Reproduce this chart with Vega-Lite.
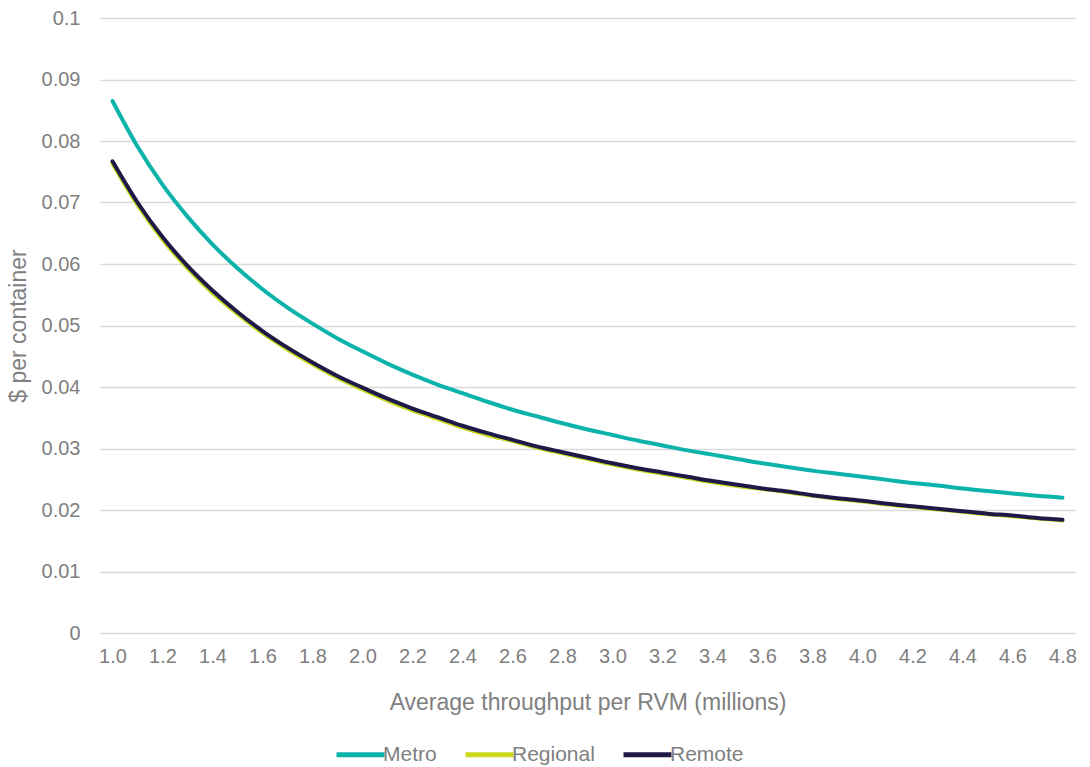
{
  "$schema": "https://vega.github.io/schema/vega-lite/v6.json",
  "width": 975,
  "height": 615,
  "autosize": {"type": "none"},
  "padding": {"left": 100, "top": 18, "right": 15, "bottom": 134},
  "background": "white",
  "config": {
    "view": {"stroke": null},
    "font": "Liberation Sans"
  },
  "datasets": {
    "curves": [
      {"x": 1.0, "Metro": 0.0865, "Regional": 0.0763, "Remote": 0.0767},
      {"x": 1.1, "Metro": 0.0791, "Regional": 0.0696, "Remote": 0.0700},
      {"x": 1.2, "Metro": 0.0729, "Regional": 0.0640, "Remote": 0.0644},
      {"x": 1.3, "Metro": 0.0677, "Regional": 0.0593, "Remote": 0.0597},
      {"x": 1.4, "Metro": 0.0632, "Regional": 0.0553, "Remote": 0.0557},
      {"x": 1.5, "Metro": 0.0593, "Regional": 0.0519, "Remote": 0.0522},
      {"x": 1.6, "Metro": 0.0559, "Regional": 0.0488, "Remote": 0.0491},
      {"x": 1.7, "Metro": 0.0529, "Regional": 0.0461, "Remote": 0.0464},
      {"x": 1.8, "Metro": 0.0503, "Regional": 0.0437, "Remote": 0.0440},
      {"x": 1.9, "Metro": 0.0479, "Regional": 0.0415, "Remote": 0.0418},
      {"x": 2.0, "Metro": 0.0458, "Regional": 0.0396, "Remote": 0.0399},
      {"x": 2.1, "Metro": 0.0438, "Regional": 0.0378, "Remote": 0.0381},
      {"x": 2.2, "Metro": 0.0420, "Regional": 0.0362, "Remote": 0.0365},
      {"x": 2.3, "Metro": 0.0404, "Regional": 0.0348, "Remote": 0.0351},
      {"x": 2.4, "Metro": 0.0390, "Regional": 0.0334, "Remote": 0.0337},
      {"x": 2.5, "Metro": 0.0376, "Regional": 0.0322, "Remote": 0.0325},
      {"x": 2.6, "Metro": 0.0363, "Regional": 0.0312, "Remote": 0.0314},
      {"x": 2.7, "Metro": 0.0352, "Regional": 0.0301, "Remote": 0.0303},
      {"x": 2.8, "Metro": 0.0341, "Regional": 0.0292, "Remote": 0.0294},
      {"x": 2.9, "Metro": 0.0331, "Regional": 0.0283, "Remote": 0.0285},
      {"x": 3.0, "Metro": 0.0322, "Regional": 0.0274, "Remote": 0.0276},
      {"x": 3.1, "Metro": 0.0313, "Regional": 0.0266, "Remote": 0.0268},
      {"x": 3.2, "Metro": 0.0305, "Regional": 0.0259, "Remote": 0.0261},
      {"x": 3.3, "Metro": 0.0297, "Regional": 0.0252, "Remote": 0.0254},
      {"x": 3.4, "Metro": 0.0290, "Regional": 0.0245, "Remote": 0.0247},
      {"x": 3.5, "Metro": 0.0283, "Regional": 0.0239, "Remote": 0.0241},
      {"x": 3.6, "Metro": 0.0276, "Regional": 0.0234, "Remote": 0.0235},
      {"x": 3.7, "Metro": 0.0270, "Regional": 0.0229, "Remote": 0.0230},
      {"x": 3.8, "Metro": 0.0264, "Regional": 0.0223, "Remote": 0.0224},
      {"x": 3.9, "Metro": 0.0259, "Regional": 0.0218, "Remote": 0.0219},
      {"x": 4.0, "Metro": 0.0254, "Regional": 0.0214, "Remote": 0.0215},
      {"x": 4.1, "Metro": 0.0249, "Regional": 0.0209, "Remote": 0.0210},
      {"x": 4.2, "Metro": 0.0244, "Regional": 0.0205, "Remote": 0.0206},
      {"x": 4.3, "Metro": 0.0240, "Regional": 0.0201, "Remote": 0.0202},
      {"x": 4.4, "Metro": 0.0235, "Regional": 0.0197, "Remote": 0.0198},
      {"x": 4.5, "Metro": 0.0231, "Regional": 0.0193, "Remote": 0.0194},
      {"x": 4.6, "Metro": 0.0227, "Regional": 0.0190, "Remote": 0.0191},
      {"x": 4.7, "Metro": 0.0223, "Regional": 0.0186, "Remote": 0.0187},
      {"x": 4.8, "Metro": 0.0220, "Regional": 0.0183, "Remote": 0.0184}
    ]
  },
  "data": {"name": "curves"},
  "transform": [
    {"fold": ["Metro", "Regional", "Remote"], "as": ["series", "value"]}
  ],
  "mark": {"type": "line", "strokeWidth": 4, "strokeCap": "round", "interpolate": "monotone"},
  "encoding": {
    "x": {
      "field": "x",
      "type": "quantitative",
      "scale": {"domain": [0.95, 4.85], "nice": false, "zero": false},
      "axis": {
        "title": "Average throughput  per RVM (millions)",
        "values": [1.0, 1.2, 1.4, 1.6, 1.8, 2.0, 2.2, 2.4, 2.6, 2.8, 3.0, 3.2, 3.4, 3.6, 3.8, 4.0, 4.2, 4.4, 4.6, 4.8],
        "format": ".1f",
        "grid": false,
        "domain": false,
        "ticks": false,
        "labelPadding": 13,
        "labelFontSize": 20,
        "labelColor": "#808080",
        "labelFont": "Liberation Sans",
        "titleFontSize": 23,
        "titleFontWeight": "normal",
        "titleColor": "#808080",
        "titleFont": "Liberation Sans",
        "titlePadding": 25
      }
    },
    "y": {
      "field": "value",
      "type": "quantitative",
      "scale": {"domain": [0, 0.1], "nice": false},
      "axis": {
        "title": "$ per container",
        "values": [0, 0.01, 0.02, 0.03, 0.04, 0.05, 0.06, 0.07, 0.08, 0.09, 0.1],
        "format": "~f",
        "grid": true,
        "gridColor": "#d9d9d9",
        "gridWidth": 1.5,
        "domain": false,
        "ticks": false,
        "labelPadding": 20,
        "labelFontSize": 20,
        "labelColor": "#808080",
        "labelFont": "Liberation Sans",
        "titleFontSize": 23,
        "titleFontWeight": "normal",
        "titleColor": "#808080",
        "titleFont": "Liberation Sans",
        "titlePadding": 11
      }
    },
    "color": {
      "field": "series",
      "type": "nominal",
      "scale": {
        "domain": ["Metro", "Regional", "Remote"],
        "range": ["#0bb3aa", "#c9d81c", "#1e1a47"]
      },
      "legend": {
        "title": null,
        "orient": "none",
        "direction": "horizontal",
        "legendX": 234,
        "legendY": 710,
        "symbolType": "stroke",
        "symbolSize": 2304,
        "symbolStrokeWidth": 5,
        "labelFontSize": 21,
        "labelColor": "#808080",
        "labelFont": "Liberation Sans",
        "labelOffset": -4,
        "columnPadding": 18
      }
    }
  }
}
